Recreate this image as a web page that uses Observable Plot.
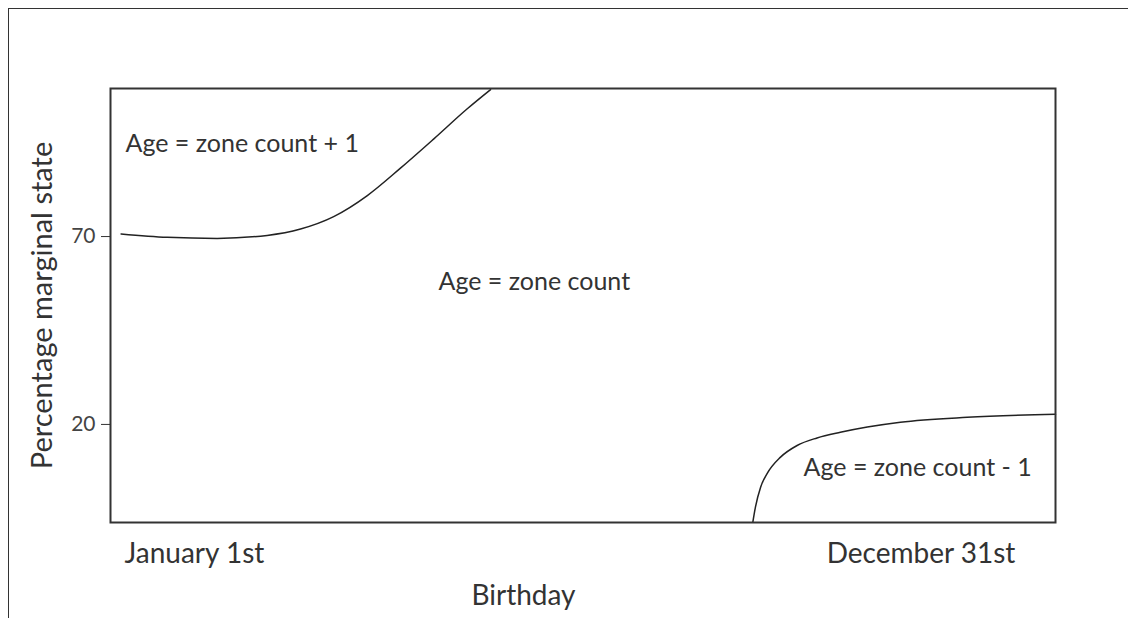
<!DOCTYPE html>
<html>
<head>
<meta charset="utf-8">
<script src="https://cdn.jsdelivr.net/npm/d3@7"></script>
<script src="https://cdn.jsdelivr.net/npm/@observablehq/plot@0.6"></script>
<style>
  html, body { margin: 0; padding: 0; background: #fff; overflow: hidden; }
  #outer { position: absolute; left: 8px; top: 8px; width: 1200px; height: 700px;
           border-left: 1.5px solid #333; border-top: 1.5px solid #333; }
  #chart { position: absolute; left: 0; top: 0; }
  text { font-family: Lato, "Open Sans", sans-serif; }
</style>
</head>
<body>
<div id="outer"></div>
<div id="chart"></div>
<script>
// Upper boundary curve (day of year, percentage)
const upperDays   = [4.1, 21.9, 41.2, 60.5, 73.4, 86.2, 99.2, 112.0, 124.9, 137.8, 146.8];
const upperValues = [70.7, 69.8, 69.5, 70.3, 72.0, 75.3, 80.9, 88.2, 96.0, 104.0, 109.1];
// Lower boundary curve
const lowerDays   = [248.1, 249.1, 251.1, 253.6, 258.8, 265.2, 272.9, 281.9, 292.3, 305.1, 330.9, 365];
const lowerValues = [-6.0, -2.0, 3.3, 6.9, 11.3, 14.4, 16.4, 17.9, 19.3, 20.6, 21.9, 22.7];
// Y ticks
const yTicks = [20, 70];
// Region labels
const regionLabels = ["Age = zone count + 1", "Age = zone count", "Age = zone count - 1"];
const regionDays   = [5.8, 126.7, 267.7];
const regionValues = [94.7, 58.0, 8.3];
// X end labels
const xStartLabel = "January 1st";
const xStartDay = 5.4;
const xEndLabel = "December 31st";
const xEndDay = 349.5;
const xTitle = "Birthday";
const xTitleDay = 159.5;
const yTitle = "Percentage marginal state";

const upper = upperDays.map((d, i) => ({x: d, y: upperValues[i]}));
const lower = lowerDays.map((d, i) => ({x: d, y: lowerValues[i]}));
const regions = regionLabels.map((t, i) => ({t, x: regionDays[i], y: regionValues[i]}));

const chart = Plot.plot({
  width: 1128,
  height: 618,
  marginLeft: 110,
  marginTop: 88,
  marginRight: 73,
  marginBottom: 96,
  style: {fontFamily: "Lato, 'Open Sans', sans-serif", color: "#333", background: "transparent"},
  x: {domain: [0, 365], axis: null},
  y: {domain: [-6.1, 109.4], axis: null},
  marks: [
    Plot.line(upper, {x: "x", y: "y", curve: "monotone-x", stroke: "#222", strokeWidth: 1.5}),
    Plot.line(lower, {x: "x", y: "y", curve: "monotone-x", stroke: "#222", strokeWidth: 1.5}),
    Plot.frame({stroke: "#333", strokeWidth: 2}),
    Plot.axisY(yTicks, {tickSize: 9, text: null, stroke: "#333", label: null}),
    Plot.text(yTicks, {y: d => d, text: d => String(d), frameAnchor: "left", textAnchor: "end", dx: -15, fontSize: 21, fill: "#444"}),
    Plot.text(regions, {x: "x", y: "y", text: "t", textAnchor: "start", fontSize: 25, fill: "#333"}),
    Plot.text([xStartLabel], {x: [xStartDay], text: d => d, frameAnchor: "bottom", textAnchor: "start", dy: 40, fontSize: 28, fill: "#333"}),
    Plot.text([xEndLabel], {x: [xEndDay], text: d => d, frameAnchor: "bottom", textAnchor: "end", dy: 40, fontSize: 28, fill: "#333"}),
    Plot.text([xTitle], {x: [xTitleDay], text: d => d, frameAnchor: "bottom", textAnchor: "middle", dy: 82, fontSize: 28, fill: "#333"}),
    Plot.text([yTitle], {frameAnchor: "left", textAnchor: "middle", dx: -68, rotate: -90, fontSize: 29, fill: "#333"})
  ]
});
document.getElementById("chart").appendChild(chart);
</script>
</body>
</html>
